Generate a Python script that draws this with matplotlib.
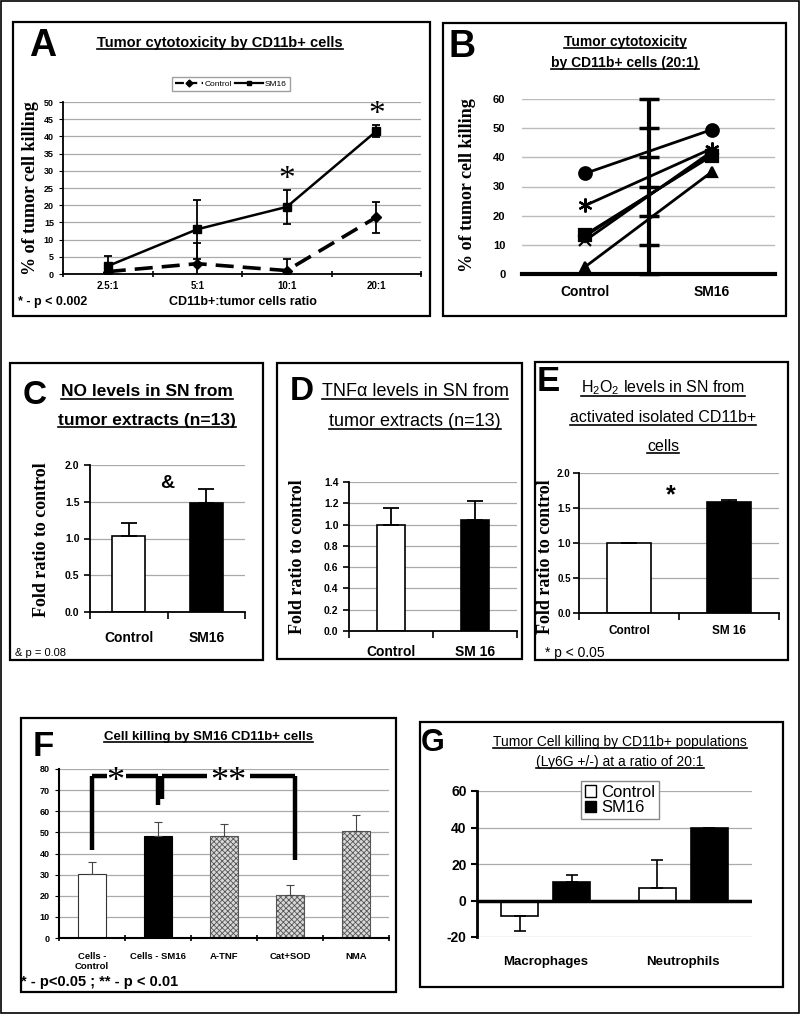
import numpy as np
import matplotlib
matplotlib.use('Agg')
import matplotlib.pyplot as plt
from matplotlib.patches import Rectangle
from matplotlib.lines import Line2D
from matplotlib.transforms import IdentityTransform

W, H = 800, 1014

# ---- data ----
# A: cytotoxicity vs effector:target ratio
ratios = ['2.5:1', '5:1', '10:1', '20:1']
a_control = [0.7, 3.0, 1.0, 16.5]
a_control_err = [0.5, 6.0, 3.5, 4.5]
a_sm16 = [2.3, 13.0, 19.5, 41.5]
a_sm16_err = [3.0, 8.5, 5.0, 1.8]
a_signif = [False, False, True, True]

# B: paired mice at 20:1
b_groups = ['Control', 'SM16']
b_circle = [34.5, 49.5]
b_star = [23.5, 43.0]
b_square = [13.5, 40.5]
b_cross = [11.5, 42.0]
b_diamond = [13.0, 41.0]
b_triangle = [2.5, 35.0]

# C: NO levels
c_groups = ['Control', 'SM16']
c_vals = [1.03, 1.48]
c_err = [0.18, 0.20]

# D: TNFa levels
d_groups = ['Control', 'SM 16']
d_vals = [1.0, 1.04]
d_err = [0.16, 0.18]

# E: H2O2 levels
e_groups = ['Control', 'SM 16']
e_vals = [1.0, 1.58]
e_err = [0.0, 0.04]

# F: cell killing with inhibitors
f_groups = ['Cells -\nControl', 'Cells - SM16', 'A-TNF', 'Cat+SOD', 'NMA']
f_vals = [30.5, 48.5, 48.5, 20.5, 50.5]
f_err = [5.3, 6.5, 5.5, 4.5, 7.5]

# G: macrophages vs neutrophils
g_groups = ['Macrophages', 'Neutrophils']
g_control = [-8.5, 7.0]
g_control_err = [8.0, 15.0]
g_sm16 = [10.0, 39.5]
g_sm16_err = [4.0, 0.5]

SANS = ['Liberation Sans', 'DejaVu Sans']
NARROW = ['Liberation Sans', 'DejaVu Sans']
SERIF = ['Liberation Serif', 'DejaVu Serif']

plt.rcParams['font.family'] = SANS
plt.rcParams['mathtext.fontset'] = 'custom'
plt.rcParams['mathtext.rm'] = 'Liberation Sans'
plt.rcParams['hatch.linewidth'] = 0.6

fig = plt.figure(figsize=(W / 100, H / 100), dpi=100)
underline = []


def px_axes(l, t, r, b):
    return fig.add_axes([l / W, 1 - b / H, (r - l) / W, (b - t) / H])


def ftext(x, y, s, ul=False, **kw):
    kw.setdefault('ha', 'center')
    kw.setdefault('va', 'center')
    t = fig.text(x / W, 1 - y / H, s, **kw)
    if ul:
        underline.append(t)
    return t


def box(l, t, r, b, lw=1.6):
    fig.add_artist(Rectangle((l / W, 1 - b / H), (r - l) / W, (b - t) / H,
                             transform=fig.transFigure, fill=False, lw=lw, ec='black'))


def cat_axis(ax, labels, n, fs, family, weight='bold', tick='out'):
    ax.set_xlim(0, n)
    ax.set_xticks(np.arange(n) + 0.5)
    ax.set_xticklabels(labels, fontsize=fs, family=family, weight=weight)
    ax.tick_params(axis='x', which='major', length=0, pad=8)
    ax.set_xticks(np.arange(n + 1), minor=True)
    ax.tick_params(axis='x', which='minor', length=5, width=1.2, direction=tick)


def simple_spines(ax, lw=1.3):
    for s in ['top', 'right']:
        ax.spines[s].set_visible(False)
    for s in ['left', 'bottom']:
        ax.spines[s].set_linewidth(lw)
    ax.yaxis.grid(True, color='#aaaaaa', lw=0.9)
    ax.set_axisbelow(True)


box(1, 1, 799, 1013, lw=1.2)

# ================= A =================
box(13, 22, 430, 316)
axA = px_axes(63, 102, 421, 274)
xa = np.arange(len(ratios)) + 0.5
axA.errorbar(xa, a_control, yerr=a_control_err, color='black', lw=2.6, ls=(0, (5, 2.5)),
             marker='D', ms=5, capsize=3, elinewidth=1.3, capthick=1.3)
axA.errorbar(xa, a_sm16, yerr=a_sm16_err, color='black', lw=1.8, marker='s', ms=6,
             capsize=3, elinewidth=1.3, capthick=1.3)
for xi, v, e, s in zip(xa, a_sm16, a_sm16_err, a_signif):
    if s:
        axA.text(xi, v + e + 3, '*', ha='center', va='center', fontsize=24, family=SERIF)
axA.set_ylim(0, 50)
axA.set_yticks(np.arange(0, 51, 5))
axA.tick_params(axis='y', labelsize=6.5, length=3)
for lb in axA.get_yticklabels():
    lb.set_weight('bold')
cat_axis(axA, ratios, 4, 7, SANS, tick='inout')
axA.tick_params(axis='x', which='major', pad=5)
simple_spines(axA)
hA = [Line2D([], [], color='black', lw=1.6, ls=(0, (4, 2)), marker='D', ms=3.5),
      Line2D([], [], color='black', lw=1.6, marker='s', ms=3.5)]
fig.legend(hA, ['Control', 'SM16'], loc='center', bbox_to_anchor=(231 / W, 1 - 84 / H),
           ncol=2, fontsize=6, fancybox=False, edgecolor='#888888', handlelength=3.4,
           columnspacing=0.3, handletextpad=0.2, borderpad=0.4)
ftext(43, 46, 'A', fontsize=27, weight='bold')
ftext(220, 43, 'Tumor cytotoxicity by CD11b+ cells', ul=True, fontsize=10.5, weight='bold')
ftext(31, 188, '% of tumor cell killing', rotation=90, fontsize=13, family=SERIF, weight='bold')
ftext(18, 302, '* - p < 0.002', ha='left', fontsize=9, weight='bold')
ftext(243, 302, 'CD11b+:tumor cells ratio', fontsize=9, weight='bold')

# ================= B =================
box(443, 23, 786, 316)
axB = px_axes(522, 99, 775, 274)
xb = np.arange(len(b_groups))
for vals, m, ms in zip([b_circle, b_star, b_square, b_cross, b_diamond, b_triangle],
                       ['o', (6, 2, 0), 's', 'x', 'D', '^'], [9, 10, 9, 9, 6, 7]):
    axB.plot(xb, vals, color='black', lw=2, marker=m, ms=ms, mew=1.6)
axB.set_xlim(-0.5, 1.5)
axB.set_ylim(0, 60)
axB.set_yticks(np.arange(0, 61, 10))
axB.tick_params(axis='y', length=0, pad=12, labelsize=8)
for lb in axB.get_yticklabels():
    lb.set_weight('bold')
axB.set_xticks(xb)
axB.set_xticklabels(b_groups, fontsize=10, weight='bold')
axB.tick_params(axis='x', length=0, pad=8)
for s in ['top', 'right', 'left']:
    axB.spines[s].set_visible(False)
axB.spines['bottom'].set_linewidth(3)
axB.yaxis.grid(True, color='#bbbbbb', lw=1)
axB.set_axisbelow(True)
axB.axvline(0.5, color='black', lw=3, zorder=1)
axB.plot(np.full(7, 0.5), np.arange(0, 61, 10), ls='none', marker='_', ms=14, mew=2.5,
         color='black', zorder=1, clip_on=False)
ftext(462, 47, 'B', fontsize=27, weight='bold')
ftext(625, 42, 'Tumor cytotoxicity', ul=True, fontsize=10, weight='bold')
ftext(625, 63, 'by CD11b+ cells (20:1)', ul=True, fontsize=10, weight='bold')
ftext(467, 185, '% of tumor cell killing', rotation=90, fontsize=13, family=SERIF, weight='bold')


def two_bars(ax, vals, err, width):
    x = np.arange(len(vals)) + 0.5
    ax.bar(x, vals, width=width, color=['white', 'black'], edgecolor='black', lw=1.2, zorder=2)
    ax.errorbar(x, vals, yerr=[np.zeros(len(err)), err], fmt='none', ecolor='black',
                elinewidth=1.3, capsize=6, capthick=1.3, zorder=3)


# ================= C =================
box(10, 363, 263, 660)
axC = px_axes(90, 465, 245, 612)
two_bars(axC, c_vals, c_err, 0.42)
axC.set_ylim(0, 2.0)
axC.set_yticks(np.arange(0, 2.01, 0.5))
axC.set_yticklabels(['%.1f' % v for v in np.arange(0, 2.01, 0.5)], fontsize=7.5,
                    family=NARROW, weight='bold')
axC.tick_params(axis='y', length=4, width=1.2)
cat_axis(axC, c_groups, 2, 10, NARROW)
axC.tick_params(axis='x', which='major', pad=14)
simple_spines(axC)
axC.text(1.0, 1.75, '&', ha='center', va='center', fontsize=14, family=NARROW, weight='bold')
ftext(35, 396, 'C', fontsize=24, weight='bold')
ftext(147, 392, 'NO levels in SN from', ul=True, fontsize=12.5, family=NARROW, weight='bold')
ftext(147, 420, 'tumor extracts (n=13)', ul=True, fontsize=12.5, family=NARROW, weight='bold')
ftext(42, 540, 'Fold ratio to control', rotation=90, fontsize=13, family=SERIF, weight='bold')
ftext(15, 653, '& p = 0.08', ha='left', fontsize=8, family=NARROW)

# ================= D =================
box(277, 363, 522, 659)
axD = px_axes(349, 482, 517, 631)
two_bars(axD, d_vals, d_err, 0.33)
axD.set_ylim(0, 1.4)
axD.set_yticks(np.arange(0, 1.41, 0.2))
axD.set_yticklabels(['%.1f' % v for v in np.arange(0, 1.41, 0.2)], fontsize=7.5,
                    family=NARROW, weight='bold')
axD.tick_params(axis='y', length=4, width=1.2)
cat_axis(axD, d_groups, 2, 10, NARROW)
axD.tick_params(axis='x', which='major', pad=10)
simple_spines(axD)
ftext(302, 392, 'D', fontsize=24, weight='bold')
ftext(415, 391, 'TNFα levels in SN from', ul=True, fontsize=13, family=NARROW)
ftext(415, 421, 'tumor extracts (n=13)', ul=True, fontsize=13, family=NARROW)
ftext(298, 557, 'Fold ratio to control', rotation=90, fontsize=13, family=SERIF, weight='bold')

# ================= E =================
box(535, 362, 788, 660)
axE = px_axes(579, 473, 779, 613)
two_bars(axE, e_vals, e_err, 0.44)
axE.set_ylim(0, 2.0)
axE.set_yticks(np.arange(0, 2.01, 0.5))
axE.set_yticklabels(['%.1f' % v for v in np.arange(0, 2.01, 0.5)], fontsize=7,
                    family=NARROW, weight='bold')
axE.tick_params(axis='y', length=4, width=1.2, pad=2)
cat_axis(axE, e_groups, 2, 8.5, NARROW)
axE.tick_params(axis='x', which='major', pad=9)
simple_spines(axE)
axE.text(0.92, 1.68, '*', ha='center', va='center', fontsize=18, weight='bold')
ftext(548, 382, 'E', fontsize=25, weight='bold')
ftext(663, 388, r'H$_\mathrm{2}$O$_\mathrm{2}$ levels in SN from', ul=True, fontsize=11.5, family=NARROW)
ftext(663, 418, 'activated isolated CD11b+', ul=True, fontsize=11.5, family=NARROW)
ftext(663, 447, 'cells', ul=True, fontsize=11.5, family=NARROW)
ftext(545, 557, 'Fold ratio to control', rotation=90, fontsize=13, family=SERIF, weight='bold')
ftext(545, 653, '* p < 0.05', ha='left', fontsize=10, family=NARROW)

# ================= F =================
box(21, 718, 396, 992)
axF = px_axes(59, 769, 389, 938)
xf = np.arange(len(f_vals)) + 0.5
fcol = ['white', 'black', '#d8d8d8', '#d8d8d8', '#d8d8d8']
hat = [None, None, 'xxxxxx', 'xxxxxx', 'xxxxxx']
ecol = ['#333333', 'black', '#555555', '#555555', '#555555']
for xi, v, c, h, ec in zip(xf, f_vals, fcol, hat, ecol):
    axF.bar(xi, v, width=0.41, color=c, hatch=h, edgecolor=ec, lw=0.8, zorder=2)
axF.errorbar(xf, f_vals, yerr=[np.zeros(len(f_err)), f_err], fmt='none', ecolor='#444444',
             elinewidth=0.8, capsize=3, capthick=0.8, zorder=3)
axF.set_ylim(0, 80)
axF.set_yticks(np.arange(0, 81, 10))
axF.tick_params(axis='y', labelsize=6.5, length=3)
for lb in axF.get_yticklabels():
    lb.set_weight('bold')
cat_axis(axF, f_groups, 5, 6.8, SANS, tick='inout')
axF.tick_params(axis='x', which='major', pad=10)
for lb in axF.get_xticklabels():
    lb.set_va('top')
simple_spines(axF, lw=1.5)
# significance brackets
top = 76.5
bk = dict(color='black', lw=3.2, solid_capstyle='butt', clip_on=False, zorder=4)
axF.plot([xf[0], xf[0]], [f_vals[0] + f_err[0] + 6, top], **bk)
axF.plot([xf[0], 0.72], [top, top], **bk)
axF.plot([1.02, xf[1]], [top, top], **bk)
axF.plot([xf[1], xf[1]], [top, f_vals[1] + f_err[1] + 8], **bk)
axF.text(0.86, top - 3, '*', ha='center', va='center', fontsize=26, family=SERIF)
axF.plot([xf[1] + 0.06, xf[1] + 0.06], [f_vals[1] + f_err[1] + 11, top], **bk)
axF.plot([xf[1] + 0.06, 2.24], [top, top], **bk)
axF.plot([2.9, xf[3] + 0.07], [top, top], **bk)
axF.plot([xf[3] + 0.07, xf[3] + 0.07], [top, f_vals[3] + f_err[3] + 12], **bk)
axF.text(2.56, top - 3, '**', ha='center', va='center', fontsize=26, family=SERIF)
ftext(43, 747, 'F', fontsize=25, weight='bold')
ftext(208, 737, 'Cell killing by SM16 CD11b+ cells', ul=True, fontsize=9.5, weight='bold')
ftext(21, 982, '* - p<0.05 ; ** - p < 0.01', ha='left', fontsize=10.5, weight='bold')

# ================= G =================
box(420, 722, 783, 987)
axG = px_axes(477, 791, 752, 937)
xg = np.arange(len(g_groups)) + 0.5
gw = 0.27
for vals, err, off, c in [(g_control, g_control_err, -0.19, 'white'),
                          (g_sm16, g_sm16_err, 0.19, 'black')]:
    vals = np.array(vals)
    err = np.array(err)
    axG.bar(xg + off, vals, width=gw, color=c, edgecolor='black', lw=1.2, zorder=2)
    axG.errorbar(xg + off, vals, yerr=[np.where(vals < 0, err, 0), np.where(vals >= 0, err, 0)],
                 fmt='none', ecolor='black', elinewidth=1.2, capsize=4, capthick=1.2, zorder=3)
axG.set_xlim(0, 2)
axG.set_ylim(-20, 60)
axG.set_yticks(np.arange(-20, 61, 20))
axG.set_yticklabels([str(v) for v in range(-20, 61, 20)], fontsize=10, family=NARROW, weight='bold')
axG.tick_params(axis='y', length=4, width=1.5)
axG.set_xticks(xg)
axG.set_xticklabels(g_groups, fontsize=9.5, family=NARROW, weight='bold')
axG.tick_params(axis='x', length=0, pad=14)
for s in ['top', 'right', 'bottom']:
    axG.spines[s].set_visible(False)
axG.spines['left'].set_linewidth(2)
axG.yaxis.grid(True, color='#aaaaaa', lw=0.9)
axG.set_axisbelow(True)
axG.axhline(0, color='black', lw=2.5, zorder=4)
hG = [Rectangle((0, 0), 1, 1, fc='white', ec='black', lw=1),
      Rectangle((0, 0), 1, 1, fc='black', ec='black', lw=1)]
axG.legend(hG, ['Control', 'SM16'], loc='center', bbox_to_anchor=(620 / W, 1 - 800 / H),
           bbox_transform=fig.transFigure, prop={'family': NARROW, 'size': 12},
           fancybox=False, edgecolor='#888888', framealpha=1, handlelength=0.7,
           handleheight=0.7, handletextpad=0.3, labelspacing=0.05, borderpad=0.2)
ftext(433, 743, 'G', fontsize=22, weight='bold')
ftext(620, 742, 'Tumor Cell killing by CD11b+ populations', ul=True, fontsize=10, family=NARROW)
ftext(620, 762, '(Ly6G +/-) at a ratio of 20:1', ul=True, fontsize=10, family=NARROW)

# underline the panel titles
fig.canvas.draw()
rend = fig.canvas.get_renderer()
for t in underline:
    bb = t.get_window_extent(rend)
    fig.add_artist(Line2D([bb.x0, bb.x1], [bb.y0 + 1, bb.y0 + 1], color='black', lw=1.2,
                          transform=IdentityTransform()))

fig.savefig('out.png', dpi=100)
